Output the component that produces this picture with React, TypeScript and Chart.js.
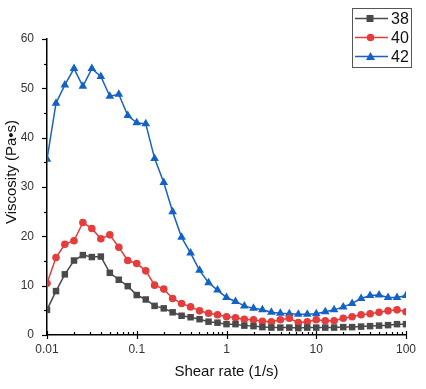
import React, { useEffect, useRef } from "react";
import { Chart, registerables } from "chart.js";

Chart.register(...registerables);

const shearRate = [
  0.01, 0.0126, 0.0158, 0.02, 0.0251, 0.0316, 0.0398, 0.0501, 0.0631, 0.0794,
  0.1, 0.126, 0.158, 0.2, 0.251, 0.316, 0.398, 0.501, 0.631, 0.794,
  1, 1.26, 1.58, 2, 2.51, 3.16, 3.98, 5.01, 6.31, 7.94,
  10, 12.6, 15.8, 20, 25.1, 31.6, 39.8, 50.1, 63.1, 79.4, 100,
];

const visc38 = [
  5.1, 8.9, 12.3, 15.1, 16.2, 15.8, 15.9, 12.6, 11.2, 9.9,
  8.1, 7.2, 5.9, 5.4, 4.6, 3.9, 3.6, 3.2, 2.7, 2.5,
  2.2, 2.2, 1.9, 1.8, 1.6, 1.5, 1.5, 1.5, 1.4, 1.5,
  1.5, 1.5, 1.5, 1.6, 1.6, 1.7, 1.8, 1.9, 2.0, 2.2, 2.2,
];

const visc40 = [
  10.5, 15.7, 18.4, 19.1, 22.8, 21.6, 19.5, 20.3, 17.8, 15.1,
  14.5, 13.0, 10.1, 9.3, 7.4, 6.4, 5.7, 4.9, 4.4, 4.1,
  3.7, 3.5, 3.2, 3.1, 2.8, 2.7, 3.1, 3.4, 2.5, 2.7,
  3.1, 2.9, 2.9, 3.4, 3.7, 4.1, 4.3, 4.6, 4.9, 5.1, 4.7,
];

const visc42 = [
  35.6, 47.0, 50.7, 54.0, 50.4, 54.0, 52.4, 48.4, 48.8, 44.5,
  43.0, 42.8, 35.8, 30.9, 25.0, 19.8, 16.6, 13.1, 10.6, 9.1,
  7.6, 6.8, 5.9, 5.4, 5.1, 4.6, 4.4, 4.3, 4.2, 4.2,
  4.3, 4.7, 5.1, 5.7, 6.4, 7.4, 8.0, 8.1, 7.6, 7.6, 8.0,
];

const seriesLabels = ["38", "40", "42"];
const xMajorTicks = [0.01, 0.1, 1, 10, 100];
const yTicks = [0, 10, 20, 30, 40, 50, 60];

const GRAY = "#4a4a4a";
const RED = "#e53c3c";
const BLUE = "#1462c6";
const FONT = "'Liberation Sans', Arial, sans-serif";

const decorPlugin = {
  id: "decor",
  afterDraw(chart: any) {
    const ctx = chart.ctx;
    const xs = chart.scales.x;
    const ys = chart.scales.y;
    const area = chart.chartArea;
    ctx.save();
    ctx.strokeStyle = "#000";
    ctx.lineWidth = 1.2;
    // x ticks
    for (let k = -2; k <= 2; k++) {
      for (let m = 1; m <= 9; m++) {
        const v = m * Math.pow(10, k);
        if (v > 100 * 1.0001) continue;
        const px = Math.round(xs.getPixelForValue(v)) + 0.5;
        ctx.beginPath();
        if (m === 1) {
          ctx.moveTo(px, area.bottom - 4);
          ctx.lineTo(px, area.bottom + 4);
        } else {
          ctx.moveTo(px, area.bottom - 3);
          ctx.lineTo(px, area.bottom);
        }
        ctx.stroke();
      }
    }
    // y ticks
    for (let v = 0; v <= 60; v += 5) {
      const py = Math.round(ys.getPixelForValue(v)) + 0.5;
      ctx.beginPath();
      if (v % 10 === 0) {
        ctx.moveTo(area.left - 5, py);
        ctx.lineTo(area.left, py);
      } else {
        ctx.moveTo(area.left - 3, py);
        ctx.lineTo(area.left, py);
      }
      ctx.stroke();
    }
    // axis titles
    ctx.fillStyle = "#111";
    ctx.font = `15px ${FONT}`;
    ctx.textAlign = "center";
    ctx.textBaseline = "middle";
    ctx.fillText("Shear rate (1/s)", (area.left + area.right) / 2, 372);
    ctx.save();
    ctx.translate(12, 172);
    ctx.rotate(-Math.PI / 2);
    ctx.fillText("Viscosity (Pa\u2022s)", 0, 0);
    ctx.restore();

    // legend
    const lx = 352, ly = 8, lw = 59, lh = 59;
    ctx.fillStyle = "#fff";
    ctx.fillRect(lx, ly, lw, lh);
    ctx.strokeStyle = "#555";
    ctx.lineWidth = 1;
    ctx.strokeRect(lx + 0.5, ly + 0.5, lw, lh);
    const rows = [18.5, 37.5, 56.5];
    chart.data.datasets.forEach((ds: any, i: number) => {
      const cy = rows[i];
      ctx.strokeStyle = ds.borderColor;
      ctx.lineWidth = 1.5;
      ctx.beginPath();
      ctx.moveTo(355, cy);
      ctx.lineTo(388, cy);
      ctx.stroke();
      ctx.fillStyle = ds.pointBackgroundColor;
      ctx.beginPath();
      if (ds.pointStyle === "rect") {
        ctx.rect(370 - 3.5, cy - 3.5, 7, 7);
      } else if (ds.pointStyle === "circle") {
        ctx.arc(370.5, cy, 3.8, 0, Math.PI * 2);
      } else {
        ctx.moveTo(370.5, cy - 4.5);
        ctx.lineTo(375, cy + 3.5);
        ctx.lineTo(366, cy + 3.5);
        ctx.closePath();
      }
      ctx.fill();
      ctx.fillStyle = "#111";
      ctx.font = `16px ${FONT}`;
      ctx.textAlign = "left";
      ctx.textBaseline = "middle";
      ctx.fillText(ds.label, 391, cy + 1);
    });
    ctx.restore();
  },
};

export default function App() {
  const ref = useRef<HTMLCanvasElement | null>(null);
  useEffect(() => {
    if (!ref.current) return;
    const mk = (label: string, ys: number[], color: string, style: string, r: number) => ({
      label,
      data: shearRate.map((x, i) => ({ x, y: ys[i] })),
      borderColor: color,
      backgroundColor: color,
      pointBackgroundColor: color,
      pointBorderColor: color,
      pointBorderWidth: 0,
      pointStyle: style,
      pointRadius: r,
      borderWidth: 1.5,
      tension: 0,
    });
    const chart = new Chart(ref.current, {
      type: "line",
      data: {
        datasets: [
          mk(seriesLabels[0], visc38, GRAY, "rect", 4.6),
          mk(seriesLabels[1], visc40, RED, "circle", 3.8),
          mk(seriesLabels[2], visc42, BLUE, "triangle", 5),
        ],
      },
      options: {
        animation: false,
        responsive: false,
        parsing: true,
        layout: { padding: { top: 39, right: 20, left: 0, bottom: 0 } },
        plugins: { legend: { display: false }, tooltip: { enabled: false } },
        scales: {
          x: {
            type: "logarithmic",
            min: 0.01,
            max: 100,
            grid: { display: false, drawTicks: false },
            border: { display: true, color: "#000", width: 1.5 },
            afterBuildTicks: (s: any) => {
              s.ticks = xMajorTicks.map((v) => ({ value: v }));
            },
            ticks: {
              autoSkip: false,
              maxRotation: 0,
              padding: 7,
              color: "#333",
              font: { family: FONT, size: 12 },
              callback: (v: any) => String(v),
            },
            afterFit: (s: any) => {
              s.height = 54;
            },
          },
          y: {
            min: 0,
            max: 60,
            grid: { display: false, drawTicks: false },
            border: { display: true, color: "#000", width: 1.5 },
            afterBuildTicks: (s: any) => {
              s.ticks = yTicks.map((v) => ({ value: v }));
            },
            ticks: {
              padding: 13,
              color: "#333",
              font: { family: FONT, size: 12 },
            },
            afterFit: (s: any) => {
              s.width = 47;
            },
          },
        },
      },
      plugins: [decorPlugin],
    } as any);
    return () => chart.destroy();
  }, []);
  return (
    <div style={{ position: "absolute", left: 0, top: 0, width: 426, height: 389, background: "#fff" }}>
      <canvas ref={ref} width={426} height={389} style={{ display: "block" }} />
    </div>
  );
}
